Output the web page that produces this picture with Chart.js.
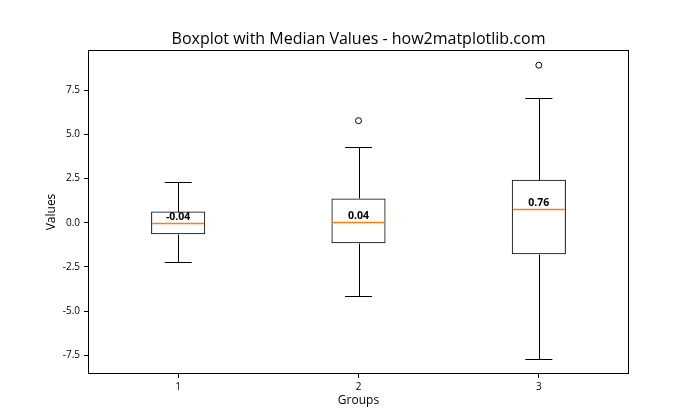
<!DOCTYPE html>
<html><head><meta charset="utf-8">
<script src="https://cdn.jsdelivr.net/npm/chart.js@4/dist/chart.umd.min.js"></script>
<style>html,body{margin:0;padding:0;background:#fff}</style>
</head><body>
<canvas id="c" width="700" height="420"></canvas>
<script>
const groups = ['1', '2', '3'];
const q1 = [-0.65, -1.16, -1.78];
const q3 = [0.63, 1.37, 2.43];
const medians = [-0.04, 0.04, 0.76];
const whiskerLow = [-2.24, -4.16, -7.73];
const whiskerHigh = [2.28, 4.28, 7.04];
const outliers = [null, 5.77, 8.91];
const yTicks = [-7.5, -5.0, -2.5, 0.0, 2.5, 5.0, 7.5];
const yMin = -8.56, yMax = 9.77;
const titleText = 'Boxplot with Median Values - how2matplotlib.com';

const FONT = '"Open Sans", "Noto Sans", sans-serif';
Chart.defaults.font.family = FONT;
Chart.defaults.color = '#000';

const boxPlugin = {
  id: 'boxParts',
  afterDatasetsDraw(chart) {
    const { ctx } = chart;
    const y = chart.scales.y;
    const meta = chart.getDatasetMeta(0);
    ctx.save();
    meta.data.forEach((bar, i) => {
      const x = bar.x, w = bar.width;
      const cx = Math.round(x) + 0.5;
      const py = v => Math.round(y.getPixelForValue(v)) + 0.5;
      ctx.strokeStyle = '#000';
      ctx.lineWidth = 1;
      ctx.beginPath();
      ctx.moveTo(cx, py(q3[i])); ctx.lineTo(cx, py(whiskerHigh[i]));
      ctx.moveTo(cx, py(q1[i])); ctx.lineTo(cx, py(whiskerLow[i]));
      ctx.moveTo(x - w / 4, py(whiskerHigh[i])); ctx.lineTo(x + w / 4, py(whiskerHigh[i]));
      ctx.moveTo(x - w / 4, py(whiskerLow[i])); ctx.lineTo(x + w / 4, py(whiskerLow[i]));
      ctx.stroke();
      ctx.strokeStyle = '#ff7f0e';
      ctx.lineWidth = 1.3;
      ctx.beginPath();
      ctx.moveTo(x - w / 2 + 1, py(medians[i])); ctx.lineTo(x + w / 2 - 1, py(medians[i]));
      ctx.stroke();
      ctx.fillStyle = '#000';
      ctx.font = 'bold 10.5px ' + FONT;
      ctx.textAlign = 'center';
      ctx.textBaseline = 'alphabetic';
      ctx.fillText(medians[i].toFixed(2), x, y.getPixelForValue(medians[i]) - 3);
    });
    ctx.restore();
  },
  afterDraw(chart) {
    const { ctx, chartArea: a } = chart;
    ctx.save();
    ctx.strokeStyle = '#000';
    ctx.lineWidth = 1;
    ctx.strokeRect(Math.round(a.left) + 0.5, Math.round(a.top) + 0.5,
      Math.round(a.right - a.left) - 1, Math.round(a.bottom - a.top) - 1);
    ctx.fillStyle = '#000';
    ctx.font = '16px ' + FONT;
    ctx.textAlign = 'center';
    ctx.textBaseline = 'middle';
    ctx.fillText(titleText, (a.left + a.right) / 2, 39);
    ctx.restore();
  }
};

new Chart(document.getElementById('c'), {
  type: 'bar',
  data: {
    labels: groups,
    datasets: [
      {
        data: q1.map((v, i) => [v, q3[i]]),
        backgroundColor: 'rgba(0,0,0,0)',
        borderColor: '#000',
        borderWidth: 1,
        borderSkipped: false,
        barPercentage: 1,
        categoryPercentage: 0.3
      },
      {
        type: 'line',
        data: outliers,
        showLine: false,
        pointRadius: 3,
        pointBorderWidth: 1,
        pointBorderColor: '#000',
        pointBackgroundColor: 'rgba(0,0,0,0)'
      }
    ]
  },
  options: {
    responsive: false,
    devicePixelRatio: 1,
    animation: false,
    layout: { padding: { left: 0, right: 71, top: 50, bottom: 0 } },
    plugins: {
      legend: { display: false },
      tooltip: { enabled: false },
      title: { display: false }
    },
    scales: {
      x: {
        type: 'category',
        offset: true,
        grid: { display: true, offset: false, drawOnChartArea: false, drawTicks: true, tickLength: 4, color: '#000' },
        border: { display: false },
        ticks: { color: '#000', font: { size: 10 }, padding: 3, maxRotation: 0 },
        title: { display: true, text: 'Groups', color: '#000', font: { size: 12 }, padding: { top: 0, bottom: 12 } },
        afterFit: s => { s.height = 46; }
      },
      y: {
        type: 'linear',
        min: yMin,
        max: yMax,
        afterBuildTicks: s => { s.ticks = yTicks.map(v => ({ value: v })); },
        grid: { display: true, drawOnChartArea: false, drawTicks: true, tickLength: 4, color: '#000' },
        border: { display: false },
        ticks: { color: '#000', font: { size: 10 }, padding: 4, callback: v => v.toFixed(1) },
        title: { display: true, text: 'Values', color: '#000', font: { size: 12 }, padding: { top: 44, bottom: 0 } },
        afterFit: s => { s.width = 88; }
      }
    }
  },
  plugins: [boxPlugin]
});
</script>
</body></html>
